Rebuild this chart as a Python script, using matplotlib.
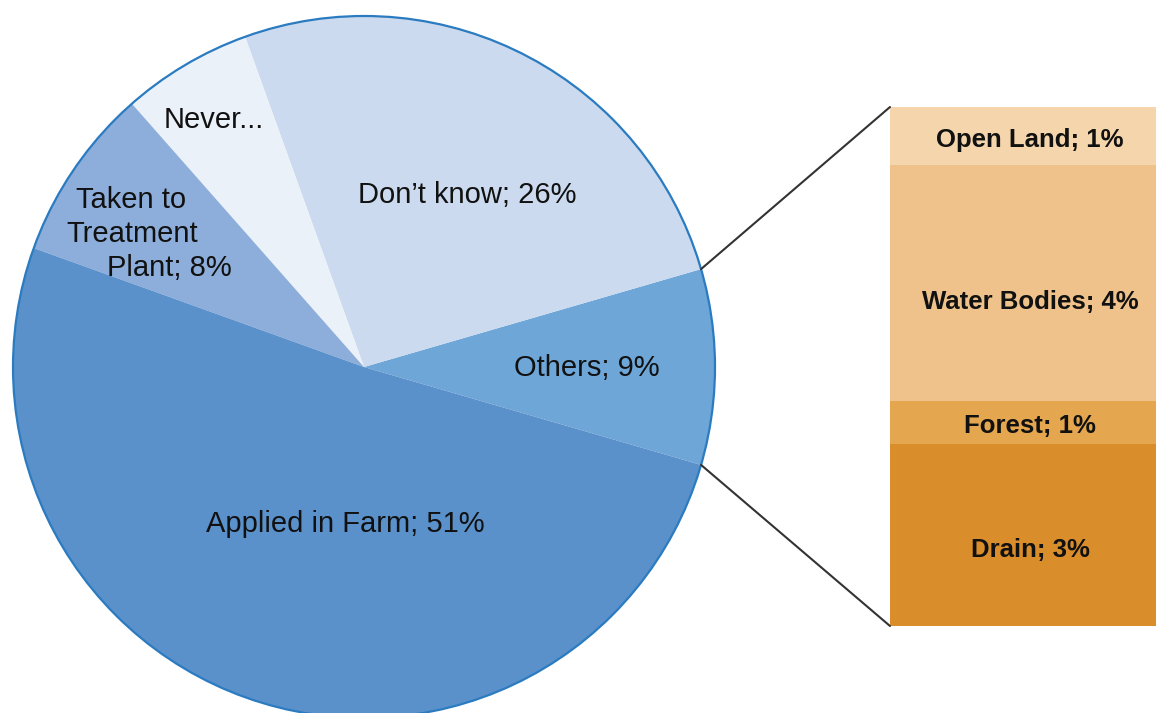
import matplotlib
matplotlib.use("Agg")
import matplotlib.pyplot as plt
from matplotlib.patches import Circle, ConnectionPatch
import numpy as np

plt.rcParams['font.family'] = ['Liberation Sans', 'DejaVu Sans']

# main pie, counter-clockwise starting with the exploded "Others" slice
pie_labels = ["Others", "Don't know", "Never...", "Taken to\nTreatment\nPlant", "Applied in Farm"]
pie_values = [9, 26, 6, 8, 51]
pie_colors = ['#6ea6d7', '#cbdaee', '#ebf1f9', '#8daeda', '#5a91cb']

# breakdown of "Others", bottom to top
sub_labels = ["Drain", "Forest", "Water Bodies", "Open Land"]
sub_values = [3.15, 0.75, 4.1, 1.0]
sub_colors = ['#d98d2b', '#e4a64e', '#eec28a', '#f5d6ac']

W, H = 1156, 713
fig = plt.figure(figsize=(W / 100, H / 100), dpi=100)
ax = fig.add_axes([0, 0, 1, 1])

cx, cy, r = 364, H - 367, 351
start = -pie_values[0] * 3.6 / 2
wedges, _ = ax.pie(pie_values, colors=pie_colors, startangle=start, counterclock=True,
                   radius=r, center=(cx, cy), frame=True,
                   wedgeprops=dict(linewidth=0))
ax.add_patch(Circle((cx, cy), r, fill=False, edgecolor='#2b7bc1', linewidth=1.6))
ax.set_xlim(0, W)
ax.set_ylim(0, H)
ax.set_aspect('equal')
ax.axis('off')

# pie labels (pixel positions measured from the top)
def put(txt, x, y, ha='center'):
    ax.text(x, H - y, txt, fontsize=21, ha=ha, va='baseline', color='#111111')

put("Others; 9%", 587, 376)
put("Don’t know; 26%", 467, 203)
put("Never...", 214, 128)
put("Taken to", 131, 208)
put("Treatment", 132, 242)
put("Plant; 8%", 169, 276)
put("Applied in Farm; 51%", 345, 532)

# stacked bar for the "Others" breakdown
total = sum(sub_values)
bax = fig.add_axes([890 / W, (H - 626) / H, 280 / W, 519 / H])
bottoms = np.concatenate([[0], np.cumsum(sub_values)[:-1]])
bax.bar(0, sub_values, bottom=bottoms, width=1, color=sub_colors, linewidth=0)
bax.set_xlim(-0.5, 0.5)
bax.set_ylim(0, total)
bax.axis('off')
for lab, v, b in zip(sub_labels, sub_values, bottoms):
    bax.text(0, b + v * 0.42, f"{lab}; {v:.0f}%", ha='center', va='center',
             fontsize=18.5, fontweight='bold', color='#111111')

# connector lines from the Others slice to the bar
for ang, yb in [(start + pie_values[0] * 3.6, total), (start, 0)]:
    t = np.deg2rad(ang)
    p = (cx + r * np.cos(t), cy + r * np.sin(t))
    con = ConnectionPatch(xyA=p, coordsA=ax.transData, xyB=(-0.5, yb), coordsB=bax.transData,
                          color='#333333', linewidth=1.5)
    fig.add_artist(con)

fig.savefig("out.png", dpi=100)
